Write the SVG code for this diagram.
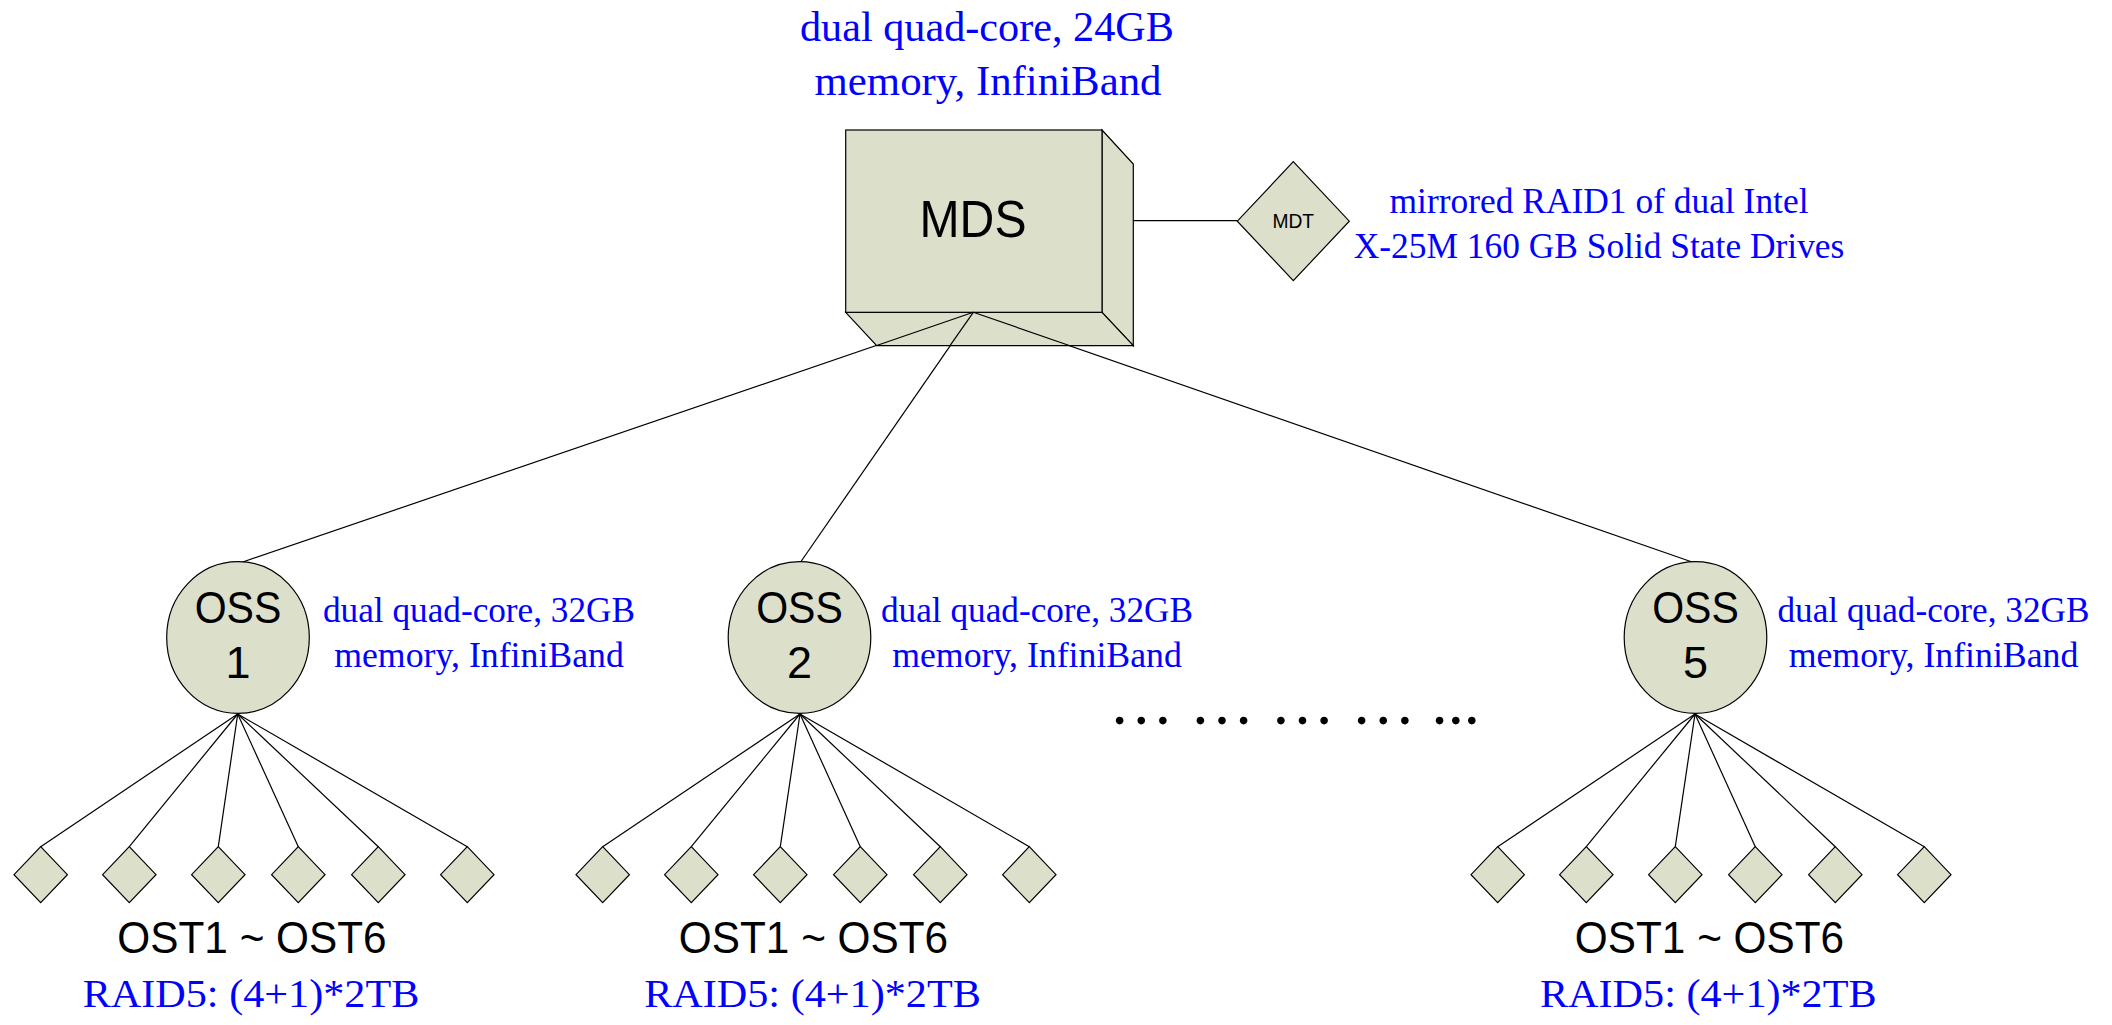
<svg xmlns="http://www.w3.org/2000/svg" xmlns:xlink="http://www.w3.org/1999/xlink" width="2112" height="1025" viewBox="0 0 2112 1025">
<defs>
<style>
.shape{fill:#DCDFCA;stroke:#000;stroke-width:1.2}
.conn{stroke:#000;stroke-width:1.2;fill:none}
.sans{font-family:Arial,"Liberation Sans",sans-serif;fill:#000;text-anchor:middle}
.serif{font-family:"Times New Roman","Liberation Serif",serif;fill:#0000FF;text-anchor:middle}
</style>
<polygon id="ost" points="0,-28 26.7,0 0,28 -26.7,0"/>
</defs>
<rect width="2112" height="1025" fill="#fff"/>

<g id="connectors">
<line class="conn" x1="1102" y1="220.7" x2="1237.3" y2="220.7"/>
<line class="conn" x1="973.3" y1="312.3" x2="237.7" y2="563.7"/>
<line class="conn" x1="973.3" y1="312.3" x2="800" y2="563"/>
<line class="conn" x1="973.3" y1="312.3" x2="1695" y2="563"/>
<g id="oss1-links">
<line class="conn" x1="237.7" y1="714" x2="40.7" y2="846.7"/>
<line class="conn" x1="237.7" y1="714" x2="129.3" y2="846.7"/>
<line class="conn" x1="237.7" y1="714" x2="218.3" y2="846.7"/>
<line class="conn" x1="237.7" y1="714" x2="298.3" y2="846.7"/>
<line class="conn" x1="237.7" y1="714" x2="378.3" y2="846.7"/>
<line class="conn" x1="237.7" y1="714" x2="467.3" y2="846.7"/>
</g>
<g id="oss2-links">
<line class="conn" x1="800" y1="714" x2="602.7" y2="846.7"/>
<line class="conn" x1="800" y1="714" x2="691.3" y2="846.7"/>
<line class="conn" x1="800" y1="714" x2="780.3" y2="846.7"/>
<line class="conn" x1="800" y1="714" x2="860.3" y2="846.7"/>
<line class="conn" x1="800" y1="714" x2="940.3" y2="846.7"/>
<line class="conn" x1="800" y1="714" x2="1029.3" y2="846.7"/>
</g>
<g id="oss5-links">
<line class="conn" x1="1695" y1="714" x2="1497.7" y2="846.7"/>
<line class="conn" x1="1695" y1="714" x2="1586.3" y2="846.7"/>
<line class="conn" x1="1695" y1="714" x2="1675.3" y2="846.7"/>
<line class="conn" x1="1695" y1="714" x2="1755.3" y2="846.7"/>
<line class="conn" x1="1695" y1="714" x2="1835.3" y2="846.7"/>
<line class="conn" x1="1695" y1="714" x2="1924.3" y2="846.7"/>
</g>
</g>

<g id="mds">
<text class="serif" x="987" y="40.7" font-size="43" textLength="374" lengthAdjust="spacingAndGlyphs">dual quad-core, 24GB</text>
<text class="serif" x="988" y="95" font-size="43" textLength="347" lengthAdjust="spacingAndGlyphs">memory, InfiniBand</text>
<polygon class="shape" points="1102,130 1133.3,164 1133.3,345.7 1102,312.3"/>
<polygon class="shape" points="845.7,312.3 1102,312.3 1133.3,345.7 876.7,345.7"/>
<rect class="shape" x="845.7" y="130" width="256.3" height="182.3"/>
<text class="sans" x="973" y="237" font-size="52" textLength="107" lengthAdjust="spacingAndGlyphs">MDS</text>
</g>

<g id="mds-lines-over">
<line class="conn" x1="973.3" y1="312.3" x2="876" y2="345.7"/>
<line class="conn" x1="973.3" y1="312.3" x2="950" y2="345.7"/>
<line class="conn" x1="973.3" y1="312.3" x2="1070" y2="345.7"/>
</g>

<g id="mdt">
<polygon class="shape" points="1293.3,161.7 1349.3,221.2 1293.3,280.7 1237.3,221.2"/>
<text class="sans" x="1293.3" y="228.3" font-size="21" textLength="41.7" lengthAdjust="spacingAndGlyphs">MDT</text>
<text class="serif" x="1599" y="213.3" font-size="35.4" textLength="419" lengthAdjust="spacingAndGlyphs">mirrored RAID1 of dual Intel</text>
<text class="serif" x="1599" y="258.3" font-size="35.4" textLength="490.7" lengthAdjust="spacingAndGlyphs">X-25M 160 GB Solid State Drives</text>
</g>

<g id="oss1">
<ellipse class="shape" cx="238" cy="637.5" rx="71.3" ry="75.8"/>
<text class="sans" x="238" y="623.3" font-size="45" textLength="86.7" lengthAdjust="spacingAndGlyphs">OSS</text>
<text class="sans" x="238" y="678.3" font-size="45">1</text>
<text class="serif" x="479" y="621.7" font-size="35.3" textLength="312" lengthAdjust="spacingAndGlyphs">dual quad-core, 32GB</text>
<text class="serif" x="479" y="666.7" font-size="35.3" textLength="289.7" lengthAdjust="spacingAndGlyphs">memory, InfiniBand</text>
</g>
<g id="oss2">
<ellipse class="shape" cx="799.5" cy="637.5" rx="71.3" ry="75.8"/>
<text class="sans" x="799.5" y="623.3" font-size="45" textLength="86.7" lengthAdjust="spacingAndGlyphs">OSS</text>
<text class="sans" x="799.5" y="678.3" font-size="45">2</text>
<text class="serif" x="1037" y="621.7" font-size="35.3" textLength="312" lengthAdjust="spacingAndGlyphs">dual quad-core, 32GB</text>
<text class="serif" x="1037" y="666.7" font-size="35.3" textLength="289.7" lengthAdjust="spacingAndGlyphs">memory, InfiniBand</text>
</g>
<g id="oss5">
<ellipse class="shape" cx="1695.5" cy="637.5" rx="71.3" ry="75.8"/>
<text class="sans" x="1695.5" y="623.3" font-size="45" textLength="86.7" lengthAdjust="spacingAndGlyphs">OSS</text>
<text class="sans" x="1695.5" y="678.3" font-size="45">5</text>
<text class="serif" x="1933.5" y="621.7" font-size="35.3" textLength="312" lengthAdjust="spacingAndGlyphs">dual quad-core, 32GB</text>
<text class="serif" x="1933.5" y="666.7" font-size="35.3" textLength="289.7" lengthAdjust="spacingAndGlyphs">memory, InfiniBand</text>
</g>

<g id="ellipsis">
<text x="1109" y="724" font-family="'Times New Roman','Liberation Serif',serif" font-size="64.5" fill="#000">… … … … ...</text>
</g>

<g id="oss1-osts">
<g id="oss1-ost1"><use xlink:href="#ost" class="shape" x="40.7" y="874.7"/></g>
<g id="oss1-ost2"><use xlink:href="#ost" class="shape" x="129.3" y="874.7"/></g>
<g id="oss1-ost3"><use xlink:href="#ost" class="shape" x="218.3" y="874.7"/></g>
<g id="oss1-ost4"><use xlink:href="#ost" class="shape" x="298.3" y="874.7"/></g>
<g id="oss1-ost5"><use xlink:href="#ost" class="shape" x="378.3" y="874.7"/></g>
<g id="oss1-ost6"><use xlink:href="#ost" class="shape" x="467.3" y="874.7"/></g>
<text class="sans" x="252" y="953.3" font-size="44" textLength="269.3" lengthAdjust="spacingAndGlyphs">OST1 ~ OST6</text>
<text class="serif" x="251" y="1006.7" font-size="41" textLength="336.7" lengthAdjust="spacingAndGlyphs">RAID5: (4+1)*2TB</text>
</g>
<g id="oss2-osts">
<g id="oss2-ost1"><use xlink:href="#ost" class="shape" x="602.7" y="874.7"/></g>
<g id="oss2-ost2"><use xlink:href="#ost" class="shape" x="691.3" y="874.7"/></g>
<g id="oss2-ost3"><use xlink:href="#ost" class="shape" x="780.3" y="874.7"/></g>
<g id="oss2-ost4"><use xlink:href="#ost" class="shape" x="860.3" y="874.7"/></g>
<g id="oss2-ost5"><use xlink:href="#ost" class="shape" x="940.3" y="874.7"/></g>
<g id="oss2-ost6"><use xlink:href="#ost" class="shape" x="1029.3" y="874.7"/></g>
<text class="sans" x="813.5" y="953.3" font-size="44" textLength="269.3" lengthAdjust="spacingAndGlyphs">OST1 ~ OST6</text>
<text class="serif" x="812.5" y="1006.7" font-size="41" textLength="336.7" lengthAdjust="spacingAndGlyphs">RAID5: (4+1)*2TB</text>
</g>
<g id="oss5-osts">
<g id="oss5-ost1"><use xlink:href="#ost" class="shape" x="1497.7" y="874.7"/></g>
<g id="oss5-ost2"><use xlink:href="#ost" class="shape" x="1586.3" y="874.7"/></g>
<g id="oss5-ost3"><use xlink:href="#ost" class="shape" x="1675.3" y="874.7"/></g>
<g id="oss5-ost4"><use xlink:href="#ost" class="shape" x="1755.3" y="874.7"/></g>
<g id="oss5-ost5"><use xlink:href="#ost" class="shape" x="1835.3" y="874.7"/></g>
<g id="oss5-ost6"><use xlink:href="#ost" class="shape" x="1924.3" y="874.7"/></g>
<text class="sans" x="1709.5" y="953.3" font-size="44" textLength="269.3" lengthAdjust="spacingAndGlyphs">OST1 ~ OST6</text>
<text class="serif" x="1708.3" y="1006.7" font-size="41" textLength="336.7" lengthAdjust="spacingAndGlyphs">RAID5: (4+1)*2TB</text>
</g>
</svg>
